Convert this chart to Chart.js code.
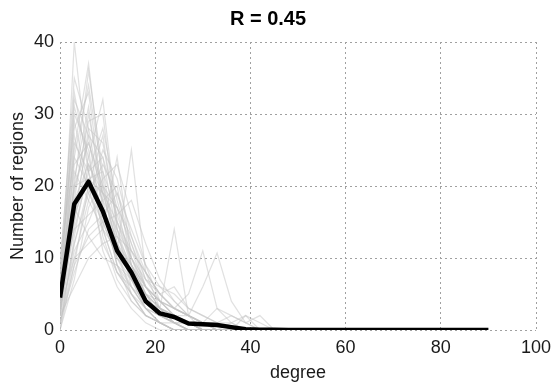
<!DOCTYPE html>
<html>
<head>
<meta charset="utf-8">
<script src="https://cdn.jsdelivr.net/npm/chart.js@4"></script>
<style>
  html, body { margin: 0; padding: 0; background: #fff; }
  #wrap { width: 555px; height: 387px; }
</style>
</head>
<body>
<div id="wrap"><canvas id="degChart" width="555" height="387"></canvas></div>
<script>
// mean degree distribution (black line)
const meanDegree = [0,3,6,9,12,15,18,21,24,27,30,33,36,39,42,45,48,51,54,57,60,63,66,69,72,75,78,81,84,87,90];
const meanCount = [4.5,17.5,20.6,16.5,11,8,4,2.3,1.8,0.9,0.8,0.7,0.4,0.1,0.05,0.05,0,0,0,0,0,0,0,0,0,0,0,0,0,0,0];

// individual subjects (grey lines)
const subjDegree = [0,3,6,9,12,15,18,21,24,27,30,33,36,39,42,45];
const subj01 = [2,40,22,14,8,5,2,1,0,0,0,0,0,0,0,0];
const subj02 = [5,25,37,20,10,6,3,1,0,0,0,0,0,0,0,0];
const subj03 = [3,20,36,22,12,7,3,1,1,0,0,0,0,0,0,0];
const subj04 = [4,15,24,32,15,9,4,2,1,0,0,0,0,0,0,0];
const subj05 = [6,22,18,14,24,10,5,2,1,0,0,0,0,0,0,0];
const subj06 = [1,12,20,17,11,25,8,3,1,0,0,0,0,0,0,0];
const subj07 = [8,35,28,17,9,4,2,1,0,0,0,0,0,0,0,0];
const subj08 = [2,18,30,19,12,7,4,3,14,2,0,0,0,0,0,0];
const subj09 = [5,14,16,18,14,10,6,4,3,5,11,3,1,0,0,0];
const subj10 = [3,10,12,14,11,9,5,4,3,2,6,10.7,4,1,0,0];
const subj11 = [7,28,33,18,9,5,2,1,0,0,0,0,0,0,0,0];
const subj12 = [0,9,20,27,14,8,4,2,1,0,0,0,0,0,0,0];
const subj13 = [4,30,25,13,7,4,2,1,0,0,0,0,0,0,0,0];
const subj14 = [10,24,20,12,8,6,3,2,1,1,0,0,0,0,0,0];
const subj15 = [2,11,15,20,17,12,6,3,2,1,0,0,0,0,0,0];
const subj16 = [6,20,21,22,16,10,7,5,3,2,1,0,0,2,1,0];
const subj17 = [3,16,27,24,13,8,4,3,2,1,1,0,0,0,0,0];
const subj18 = [1,8,14,16,19,14,9,6,4,2,1,1,0,0,0,0];
const subj19 = [9,33,22,11,6,3,1,0,0,0,0,0,0,0,0,0];
const subj20 = [5,19,29,30,14,6,3,1,0,0,0,0,0,0,0,0];
const subj21 = [2,6,10,12,13,11,8,5,6,3,2,1,2,1,0,0];
const subj22 = [4,27,19,15,10,8,5,3,2,1,0,0,0,0,0,0];
const subj23 = [0,13,23,18,20,9,5,2,1,0,0,0,0,0,0,0];
const subj24 = [3,21,31,17,9,6,4,2,1,1,0,0,0,0,0,0];
const subj25 = [7,17,13,10,9,7,6,4,3,2,1,1,1,0,0,0];
const subj26 = [2,24,34,21,11,5,2,1,0,0,0,0,0,0,0,0];
const subj27 = [1,10,18,25,21,13,7,4,2,1,0,0,0,0,0,0];
const subj28 = [5,23,26,19,12,8,5,3,2,2,1,3,2,1,2,0];
const subj29 = [3,14,22,28,18,11,6,3,2,1,0,0,0,0,0,0];
const subj30 = [6,31,24,15,10,7,3,2,1,0,0,0,0,0,0,0];
const subj31 = [4,26,22,24,17,9,5,3,1,0,0,0,0,0,0,0];
const subj32 = [0,7,17,21,23,16,9,4,2,1,0,0,0,0,0,0];
const subj33 = [8,29,20,16,12,9,6,4,2,1,1,0,0,0,0,0];
const subj34 = [2,15,28,26,15,10,6,3,1,0,0,0,0,0,0,0];
const subj35 = [5,18,23,19,17,13,8,5,3,2,1,0,0,0,0,0];
const subj36 = [1,9,13,15,16,18,12,7,4,2,1,0,1,2,0,0];
const subj37 = [6,32,27,14,8,5,3,1,0,0,0,0,0,0,0,0];
const subj38 = [3,12,19,23,19,12,7,6,5,3,2,1,0,0,0,0];
const subj39 = [2,20,26,20,13,9,6,4,2,1,0,0,0,0,0,0];
const subj40 = [4,16,21,19,15,11,8,5,3,2,1,1,0,0,0,0];

const subjects = [subj01,subj02,subj03,subj04,subj05,subj06,subj07,subj08,subj09,subj10,
  subj11,subj12,subj13,subj14,subj15,subj16,subj17,subj18,subj19,subj20,
  subj21,subj22,subj23,subj24,subj25,subj26,subj27,subj28,subj29,subj30,
  subj31,subj32,subj33,subj34,subj35,subj36,subj37,subj38,subj39,subj40];

const xTicks = [0,20,40,60,80,100];
const yTicks = [0,10,20,30,40];

const toPoints = (xs, ys) => xs.map((x, i) => ({ x: x, y: ys[i] }));

const datasets = [{
  data: toPoints(meanDegree, meanCount),
  borderColor: "#000",
  borderWidth: 4.5,
  pointRadius: 0,
  borderJoinStyle: "round",
  order: 0
}];
subjects.forEach(s => {
  datasets.push({
    data: toPoints(subjDegree, s),
    borderColor: "rgba(195,195,195,0.5)",
    borderWidth: 1.2,
    pointRadius: 0,
    order: 1
  });
});

const font = { family: "'Liberation Sans', Arial, sans-serif", size: 18 };
const gridDash = { display: false, dash: [2, 3] };

new Chart(document.getElementById("degChart"), {
  type: "line",
  data: { datasets: datasets },
  options: {
    responsive: false,
    animation: false,
    layout: { padding: { left: 0, right: 19, top: 0, bottom: 0 } },
    plugins: {
      legend: { display: false },
      tooltip: { enabled: false },
      title: {
        display: true,
        text: "R = 0.45",
        color: "#000",
        font: { family: font.family, size: 20, weight: "bold" },
        padding: { top: 7, bottom: 11 }
      }
    },
    scales: {
      x: {
        type: "linear",
        min: 0,
        max: 100,
        afterBuildTicks: s => { s.ticks = xTicks.map(v => ({ value: v })); },
        afterFit: s => { s.height = 57; s.paddingRight = 0; s.paddingLeft = 0; },
        grid: { color: "#a0a0a0", lineWidth: 1, drawTicks: false },
        border: gridDash,
        ticks: { color: "#1a1a1a", font: font, padding: 7 },
        title: { display: true, text: "degree", color: "#1a1a1a", font: font, padding: { top: 0, bottom: 3 } }
      },
      y: {
        min: 0,
        max: 40,
        afterBuildTicks: s => { s.ticks = yTicks.map(v => ({ value: v })); },
        afterFit: s => { s.width = 60; },
        grid: { color: "#a0a0a0", lineWidth: 1, drawTicks: false },
        border: gridDash,
        ticks: { color: "#1a1a1a", font: font, padding: 6 },
        title: { display: true, text: "Number of regions", color: "#1a1a1a", font: font, padding: { top: 7, bottom: 0 } }
      }
    }
  }
});
</script>
</body>
</html>
